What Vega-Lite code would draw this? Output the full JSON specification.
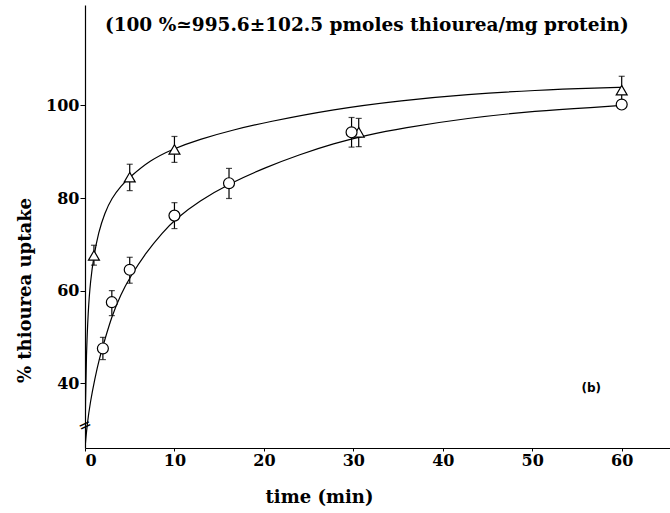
{
  "$schema": "https://vega.github.io/schema/vega-lite/v6.json",
  "width": 585,
  "height": 443,
  "autosize": {"type": "none"},
  "padding": {"left": 85, "top": 5, "right": 0, "bottom": 65},
  "background": "white",
  "config": {"view": {"stroke": null}, "font": "DejaVu Serif"},
  "datasets": {
    "pts": [
      {"series": "triangle", "t": 1, "mean": 67.6, "lo": 65.5, "hi": 69.8},
      {"series": "triangle", "t": 5, "mean": 84.5, "lo": 81.6, "hi": 87.3},
      {"series": "triangle", "t": 10, "mean": 90.5, "lo": 87.7, "hi": 93.3},
      {"series": "triangle", "t": 30.6, "mean": 94.2, "lo": 91.1, "hi": 97.2},
      {"series": "triangle", "t": 60, "mean": 103.3, "lo": 100.8, "hi": 106.3},
      {"series": "circle", "t": 2, "mean": 47.5, "lo": 45.1, "hi": 49.9},
      {"series": "circle", "t": 3, "mean": 57.5, "lo": 54.6, "hi": 60.0},
      {"series": "circle", "t": 5, "mean": 64.5, "lo": 61.6, "hi": 67.2},
      {"series": "circle", "t": 10, "mean": 76.2, "lo": 73.4, "hi": 79.0},
      {"series": "circle", "t": 16.1, "mean": 83.2, "lo": 79.9, "hi": 86.4},
      {"series": "circle", "t": 29.8, "mean": 94.2, "lo": 91.0, "hi": 97.4},
      {"series": "circle", "t": 60, "mean": 100.2, "lo": 100.2, "hi": 100.2}
    ],
    "curves": [
      {"series": "triangle", "t": 0, "v": 26},
      {"series": "triangle", "t": 0.05, "v": 36},
      {"series": "triangle", "t": 0.15, "v": 46},
      {"series": "triangle", "t": 0.35, "v": 55.5},
      {"series": "triangle", "t": 0.6, "v": 62},
      {"series": "triangle", "t": 1, "v": 67.6},
      {"series": "triangle", "t": 1.5, "v": 72.5},
      {"series": "triangle", "t": 2.2, "v": 76.8},
      {"series": "triangle", "t": 3.0, "v": 80},
      {"series": "triangle", "t": 4.0, "v": 82.6},
      {"series": "triangle", "t": 5.0, "v": 84.5},
      {"series": "triangle", "t": 7.3, "v": 88.2},
      {"series": "triangle", "t": 9.8, "v": 90.6},
      {"series": "triangle", "t": 12.8, "v": 92.7},
      {"series": "triangle", "t": 16.5, "v": 94.7},
      {"series": "triangle", "t": 20.3, "v": 96.4},
      {"series": "triangle", "t": 27.8, "v": 99.2},
      {"series": "triangle", "t": 35.4, "v": 101.1},
      {"series": "triangle", "t": 42.8, "v": 102.4},
      {"series": "triangle", "t": 50.3, "v": 103.3},
      {"series": "triangle", "t": 57.8, "v": 103.8},
      {"series": "triangle", "t": 60, "v": 103.9},
      {"series": "circle", "t": 0, "v": 26},
      {"series": "circle", "t": 0.25, "v": 31.3},
      {"series": "circle", "t": 0.6, "v": 36},
      {"series": "circle", "t": 1.1, "v": 41},
      {"series": "circle", "t": 1.6, "v": 45.3},
      {"series": "circle", "t": 2.2, "v": 49.3},
      {"series": "circle", "t": 3.0, "v": 54.5},
      {"series": "circle", "t": 4.0, "v": 59.2},
      {"series": "circle", "t": 5.0, "v": 62.8},
      {"series": "circle", "t": 6.8, "v": 68.2},
      {"series": "circle", "t": 8.7, "v": 72.6},
      {"series": "circle", "t": 10.0, "v": 75.3},
      {"series": "circle", "t": 12.8, "v": 79.4},
      {"series": "circle", "t": 16.2, "v": 83.2},
      {"series": "circle", "t": 20.3, "v": 86.7},
      {"series": "circle", "t": 24, "v": 89.4},
      {"series": "circle", "t": 27.8, "v": 91.8},
      {"series": "circle", "t": 31.5, "v": 93.6},
      {"series": "circle", "t": 35.4, "v": 95.1},
      {"series": "circle", "t": 42.8, "v": 97.3},
      {"series": "circle", "t": 50.3, "v": 98.8},
      {"series": "circle", "t": 57.8, "v": 99.7},
      {"series": "circle", "t": 60, "v": 100}
    ],
    "notes": [
      {"t": 31.5, "v": 117.3, "label": "(100 %≃995.6±102.5 pmoles thiourea/mg protein)", "kind": "header"},
      {"t": 56.6, "v": 38.9, "label": "(b)", "kind": "panel"}
    ]
  },
  "layer": [
    {
      "data": {"name": "curves"},
      "mark": {"type": "line", "interpolate": "basis", "color": "black", "strokeWidth": 1.2, "clip": true},
      "encoding": {
        "x": {"field": "t", "type": "quantitative", "scale": {"domain": [0, 65.4], "nice": false, "zero": false},
          "axis": {"values": [0, 10, 20, 30, 40, 50, 60], "title": "time (min)", "grid": false, "domainColor": "black", "domainWidth": 1.2, "tickColor": "black", "tickSize": 3, "labelFont": "DejaVu Serif", "labelFontWeight": "bold", "labelFontSize": 16, "labelColor": "black", "labelPadding": 1, "titleFont": "DejaVu Serif", "titleFontWeight": "bold", "titleFontSize": 18, "titleColor": "black", "titleX": 234, "titleY": 49, "titleBaseline": "middle", "titleAnchor": null}},
        "y": {"field": "v", "type": "quantitative", "scale": {"domain": [26, 121.7], "nice": false, "zero": false},
          "axis": {"values": [40, 60, 80, 100], "title": "% thiourea uptake", "grid": false, "domainColor": "black", "domainWidth": 1.2, "tickColor": "black", "tickSize": 5, "labelFont": "DejaVu Serif", "labelFontWeight": "bold", "labelFontSize": 16, "labelColor": "black", "labelPadding": 1, "titleFont": "DejaVu Serif", "titleFontWeight": "bold", "titleFontSize": 18, "titleColor": "black", "titleX": -60, "titleY": 285, "titleBaseline": "middle", "titleAlign": "center", "titleAnchor": null}},
        "detail": {"field": "series"}
      }
    },
    {
      "data": {"name": "pts"},
      "mark": {"type": "rule", "color": "black", "strokeWidth": 1.2},
      "encoding": {
        "x": {"field": "t", "type": "quantitative"},
        "y": {"field": "lo", "type": "quantitative"},
        "y2": {"field": "hi"}
      }
    },
    {
      "data": {"name": "pts"},
      "mark": {"type": "tick", "orient": "horizontal", "color": "black", "thickness": 1.2, "size": 6},
      "encoding": {
        "x": {"field": "t", "type": "quantitative"},
        "y": {"field": "lo", "type": "quantitative"}
      }
    },
    {
      "data": {"name": "pts"},
      "mark": {"type": "tick", "orient": "horizontal", "color": "black", "thickness": 1.2, "size": 6},
      "encoding": {
        "x": {"field": "t", "type": "quantitative"},
        "y": {"field": "hi", "type": "quantitative"}
      }
    },
    {
      "data": {"name": "pts"},
      "mark": {"type": "point", "filled": true, "fill": "white", "stroke": "black", "strokeWidth": 1.2, "opacity": 1},
      "encoding": {
        "x": {"field": "t", "type": "quantitative"},
        "y": {"field": "mean", "type": "quantitative"},
        "shape": {"field": "series", "type": "nominal", "scale": {"domain": ["triangle", "circle"], "range": ["triangle-up", "circle"]}, "legend": null},
        "size": {"value": 120}
      }
    },
    {
      "data": {"name": "notes"},
      "transform": [{"filter": "datum.kind == 'header'"}],
      "mark": {"type": "text", "font": "DejaVu Serif", "fontWeight": "bold", "fontSize": 18.5, "color": "black", "align": "center", "baseline": "middle"},
      "encoding": {
        "x": {"field": "t", "type": "quantitative"},
        "y": {"field": "v", "type": "quantitative"},
        "text": {"field": "label"}
      }
    },
    {
      "data": {"name": "notes"},
      "transform": [{"filter": "datum.kind == 'panel'"}],
      "mark": {"type": "text", "font": "DejaVu Sans", "fontWeight": "bold", "fontSize": 12, "color": "black", "align": "center", "baseline": "middle"},
      "encoding": {
        "x": {"field": "t", "type": "quantitative"},
        "y": {"field": "v", "type": "quantitative"},
        "text": {"field": "label"}
      }
    },
    {
      "data": {"values": [{"t": 0, "v": 30.9, "label": "="}]},
      "mark": {"type": "text", "font": "DejaVu Sans", "fontSize": 16, "angle": 335, "color": "black", "align": "center", "baseline": "middle"},
      "encoding": {
        "x": {"field": "t", "type": "quantitative"},
        "y": {"field": "v", "type": "quantitative"},
        "text": {"field": "label"}
      }
    }
  ]
}
